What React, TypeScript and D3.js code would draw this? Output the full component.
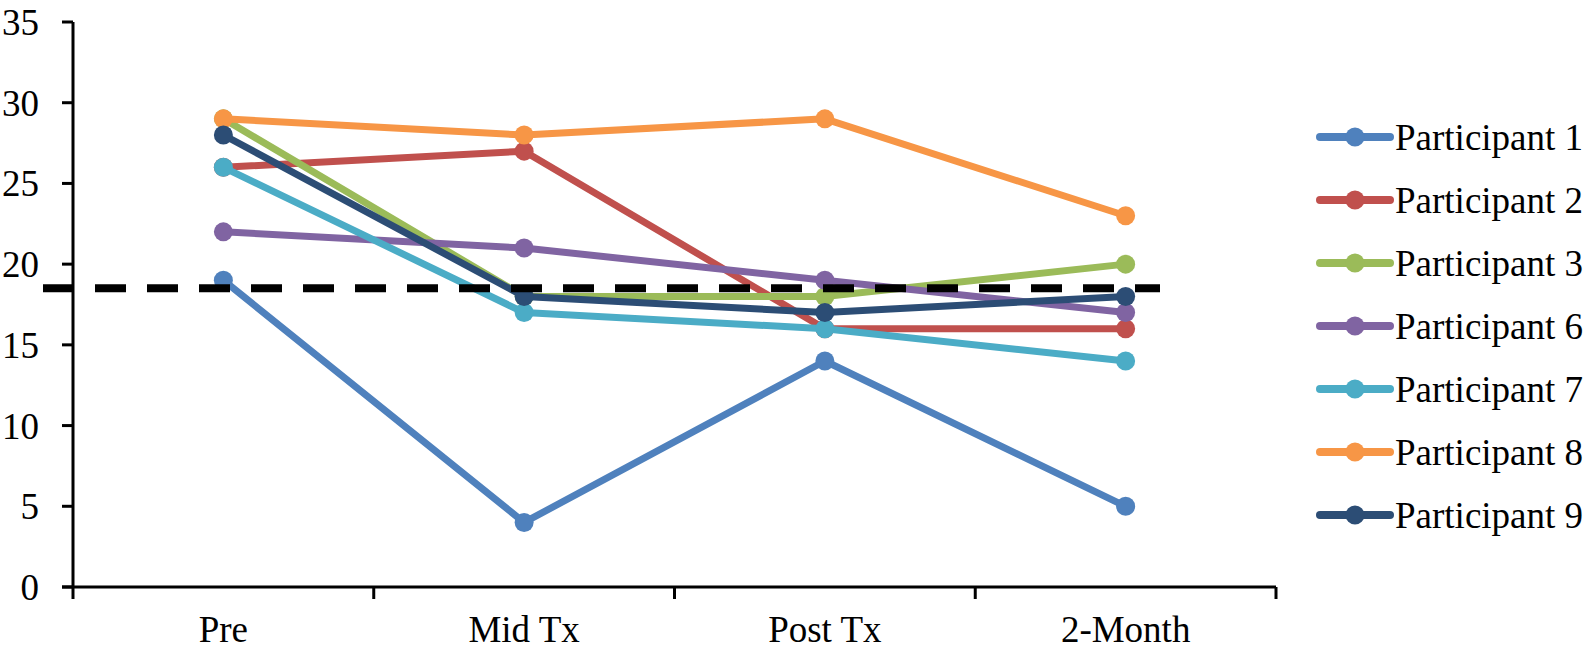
import React, { useEffect, useRef } from "react";
import * as d3 from "d3";

const categories = ["Pre", "Mid Tx", "Post Tx", "2-Month"];
const seriesNames = [
	"Participant 1",
	"Participant 2",
	"Participant 3",
	"Participant 6",
	"Participant 7",
	"Participant 8",
	"Participant 9",
];
const p1 = [19, 4, 14, 5];
const p2 = [26, 27, 16, 16];
const p3 = [29, 18, 18, 20];
const p6 = [22, 21, 19, 17];
const p7 = [26, 17, 16, 14];
const p8 = [29, 28, 29, 23];
const p9 = [28, 18, 17, 18];
const seriesValues = [p1, p2, p3, p6, p7, p8, p9];
const colors = ["#4F81BD", "#C0504D", "#9BBB59", "#8064A2", "#4BACC6", "#F79646", "#2C4D75"];
const yTicks = [0, 5, 10, 15, 20, 25, 30, 35];
const cutoff = 18.5;

const W = 1596;
const H = 658;
const FONT = "'Liberation Serif', 'Times New Roman', serif";

export default function App() {
	const ref = useRef<SVGSVGElement | null>(null);

	useEffect(() => {
		if (!ref.current) return;
		const svg = d3.select(ref.current);
		svg.selectAll("*").remove();

		const x = d3.scaleBand<string>().domain(categories).range([73, 1276]);
		const cx = (c: string) => (x(c) ?? 0) + x.bandwidth() / 2;
		const y = d3.scaleLinear().domain([0, 35]).range([587, 22]);

		// axes
		const axes = svg.append("g").attr("stroke", "#000").attr("stroke-width", 3);
		axes.append("line").attr("x1", 73).attr("x2", 73).attr("y1", y(35)).attr("y2", y(0));
		axes.append("line").attr("x1", 62).attr("x2", 1276).attr("y1", y(0)).attr("y2", y(0));
		axes.selectAll(".yt")
			.data(yTicks)
			.enter()
			.append("line")
			.attr("x1", 62)
			.attr("x2", 73)
			.attr("y1", (d) => y(d))
			.attr("y2", (d) => y(d));
		const bounds = categories.map((c) => x(c) ?? 0).concat([1276]);
		axes.selectAll(".xt")
			.data(bounds)
			.enter()
			.append("line")
			.attr("x1", (d) => d)
			.attr("x2", (d) => d)
			.attr("y1", y(0))
			.attr("y2", y(0) + 12);

		svg.append("g")
			.selectAll("text")
			.data(yTicks)
			.enter()
			.append("text")
			.attr("x", 39)
			.attr("y", (d) => y(d))
			.attr("dy", "0.35em")
			.attr("text-anchor", "end")
			.attr("font-family", FONT)
			.attr("font-size", 37)
			.text((d) => d);

		svg.append("g")
			.selectAll("text")
			.data(categories)
			.enter()
			.append("text")
			.attr("x", (d) => cx(d))
			.attr("y", 642)
			.attr("text-anchor", "middle")
			.attr("font-family", FONT)
			.attr("font-size", 37)
			.text((d) => d);

		// series
		const line = d3
			.line<number>()
			.x((_, i) => cx(categories[i]))
			.y((d) => y(d));

		seriesValues.forEach((vals, si) => {
			const g = svg.append("g");
			g.append("path")
				.attr("d", line(vals))
				.attr("fill", "none")
				.attr("stroke", colors[si])
				.attr("stroke-width", 7)
				.attr("stroke-linejoin", "round");
			g.selectAll("circle")
				.data(vals)
				.enter()
				.append("circle")
				.attr("cx", (_, i) => cx(categories[i]))
				.attr("cy", (d) => y(d))
				.attr("r", 9.5)
				.attr("fill", colors[si]);
		});

		// cutoff line
		svg.append("line")
			.attr("x1", 43)
			.attr("x2", 1160)
			.attr("y1", y(cutoff))
			.attr("y2", y(cutoff))
			.attr("stroke", "#000")
			.attr("stroke-width", 8)
			.attr("stroke-dasharray", "31,21");

		// legend
		const leg = svg
			.append("g")
			.selectAll("g")
			.data(seriesNames)
			.enter()
			.append("g")
			.attr("transform", (_, i) => `translate(0,${137 + i * 63})`);
		leg.append("line")
			.attr("x1", 1320)
			.attr("x2", 1390)
			.attr("stroke", (_, i) => colors[i])
			.attr("stroke-width", 8)
			.attr("stroke-linecap", "round");
		leg.append("circle")
			.attr("cx", 1355)
			.attr("r", 9.5)
			.attr("fill", (_, i) => colors[i]);
		leg.append("text")
			.attr("x", 1395)
			.attr("dy", "0.35em")
			.attr("font-family", FONT)
			.attr("font-size", 37)
			.text((d) => d);
	}, []);

	return (
		<svg
			ref={ref}
			width={W}
			height={H}
			style={{ position: "absolute", left: 0, top: 0, background: "#fff" }}
		/>
	);
}
